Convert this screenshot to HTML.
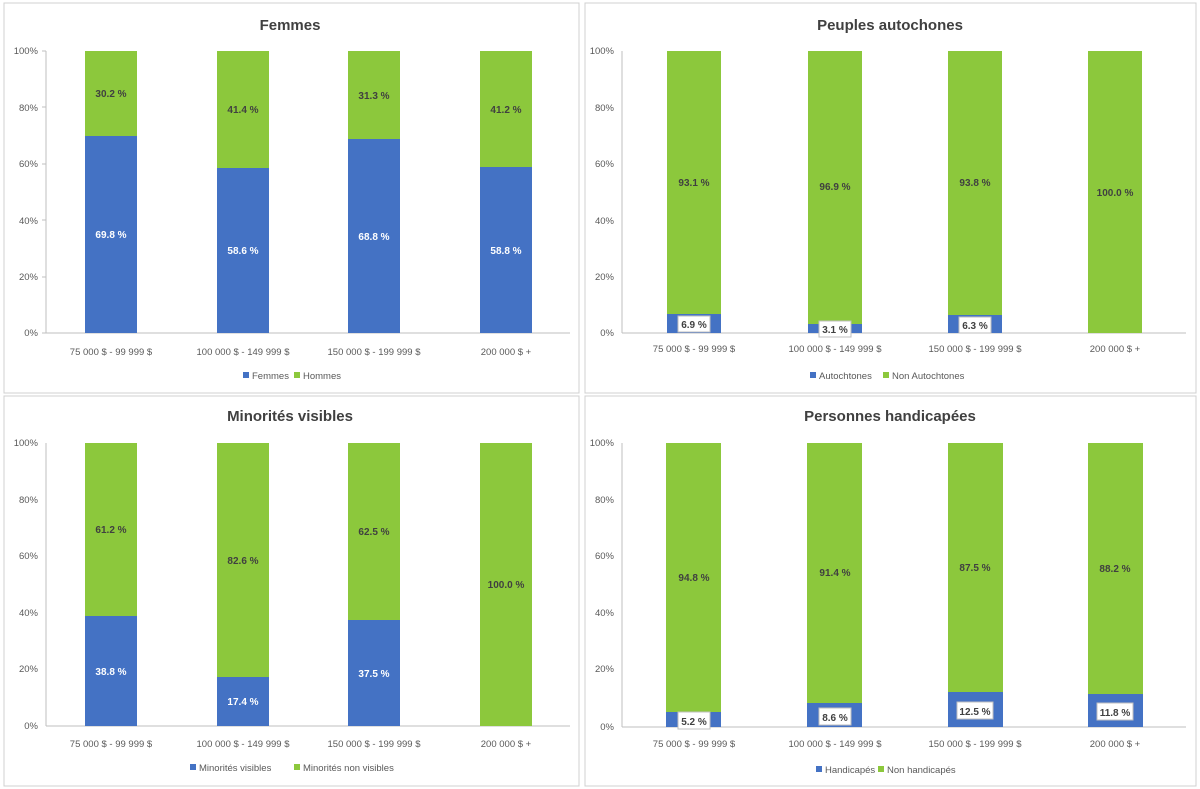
<!DOCTYPE html>
<html><head><meta charset="utf-8"><style>
body{margin:0;background:#fff;}
svg{display:block;font-family:"Liberation Sans",sans-serif;}
.t{font-size:15px;font-weight:bold;fill:#404040;text-anchor:middle}
.y{font-size:9.5px;fill:#595959;text-anchor:end}
.x{font-size:9.5px;fill:#595959;text-anchor:middle}
.l{font-size:9.5px;fill:#595959}
.w{font-size:10px;font-weight:bold;fill:#fff;text-anchor:middle}
.d{font-size:10px;font-weight:bold;fill:#404040;text-anchor:middle}
.b{fill:#4472c4}.g{fill:#8cc83c}
.ax{stroke:#bfbfbf;stroke-width:1}
.cb{fill:#fff;stroke:#bfbfbf}
</style></head><body>
<svg width="1200" height="789" viewBox="0 0 1200 789">
<rect width="1200" height="789" fill="#fff"/>
<!-- panel borders -->
<rect x="4" y="3" width="575" height="390" fill="none" stroke="#d0d0d0"/>
<rect x="585" y="3" width="611" height="390" fill="none" stroke="#d0d0d0"/>
<rect x="4" y="396" width="575" height="390" fill="none" stroke="#d0d0d0"/>
<rect x="585" y="396" width="611" height="390" fill="none" stroke="#d0d0d0"/>

<!-- TL Femmes -->
<text class="t" x="290" y="30">Femmes</text>
<g class="y"><text x="38" y="54">100%</text><text x="38" y="111">80%</text><text x="38" y="167">60%</text><text x="38" y="224">40%</text><text x="38" y="280">20%</text><text x="38" y="336">0%</text></g>
<line class="ax" x1="46" y1="51" x2="46" y2="333"/><line class="ax" x1="46" y1="333" x2="570" y2="333"/>
<g class="ax"><line x1="42" y1="51" x2="46" y2="51"/><line x1="42" y1="107" x2="46" y2="107"/><line x1="42" y1="164" x2="46" y2="164"/><line x1="42" y1="220" x2="46" y2="220"/><line x1="42" y1="277" x2="46" y2="277"/><line x1="42" y1="333" x2="46" y2="333"/></g>
<rect class="g" x="85" y="51" width="52" height="85"/><rect class="b" x="85" y="136" width="52" height="197"/>
<rect class="g" x="217" y="51" width="52" height="117"/><rect class="b" x="217" y="168" width="52" height="165"/>
<rect class="g" x="348" y="51" width="52" height="88"/><rect class="b" x="348" y="139" width="52" height="194"/>
<rect class="g" x="480" y="51" width="52" height="116"/><rect class="b" x="480" y="167" width="52" height="166"/>
<text class="d" x="111" y="97">30.2 %</text><text class="w" x="111" y="238">69.8 %</text>
<text class="d" x="243" y="113">41.4 %</text><text class="w" x="243" y="254">58.6 %</text>
<text class="d" x="374" y="99">31.3 %</text><text class="w" x="374" y="240">68.8 %</text>
<text class="d" x="506" y="113">41.2 %</text><text class="w" x="506" y="254">58.8 %</text>
<g class="x"><text x="111" y="355">75 000 $ - 99 999 $</text><text x="243" y="355">100 000 $ - 149 999 $</text><text x="374" y="355">150 000 $ - 199 999 $</text><text x="506" y="355">200 000 $ +</text></g>
<rect class="b" x="243" y="372" width="6" height="6"/><text class="l" x="252" y="379">Femmes</text>
<rect class="g" x="294" y="372" width="6" height="6"/><text class="l" x="303" y="379">Hommes</text>

<!-- TR Peuples autochones -->
<text class="t" x="890" y="30">Peuples autochones</text>
<g class="y"><text x="614" y="54">100%</text><text x="614" y="111">80%</text><text x="614" y="167">60%</text><text x="614" y="224">40%</text><text x="614" y="280">20%</text><text x="614" y="336">0%</text></g>
<line class="ax" x1="622" y1="51" x2="622" y2="333"/><line class="ax" x1="622" y1="333" x2="1186" y2="333"/>
<rect class="g" x="667" y="51" width="54" height="263"/><rect class="b" x="667" y="314" width="54" height="19"/>
<rect class="g" x="808" y="51" width="54" height="273"/><rect class="b" x="808" y="324" width="54" height="9"/>
<rect class="g" x="948" y="51" width="54" height="264"/><rect class="b" x="948" y="315" width="54" height="18"/>
<rect class="g" x="1088" y="51" width="54" height="282"/>
<text class="d" x="694" y="186">93.1 %</text><text class="d" x="835" y="190">96.9 %</text><text class="d" x="975" y="186">93.8 %</text><text class="d" x="1115" y="196">100.0 %</text>
<rect class="cb" x="678" y="316" width="32" height="16"/><text class="d" x="694" y="328">6.9 %</text>
<rect class="cb" x="819" y="321" width="32" height="16"/><text class="d" x="835" y="333">3.1 %</text>
<rect class="cb" x="959" y="317" width="32" height="16"/><text class="d" x="975" y="329">6.3 %</text>
<g class="x"><text x="694" y="352">75 000 $ - 99 999 $</text><text x="835" y="352">100 000 $ - 149 999 $</text><text x="975" y="352">150 000 $ - 199 999 $</text><text x="1115" y="352">200 000 $ +</text></g>
<rect class="b" x="810" y="372" width="6" height="6"/><text class="l" x="819" y="379">Autochtones</text>
<rect class="g" x="883" y="372" width="6" height="6"/><text class="l" x="892" y="379">Non Autochtones</text>

<!-- BL Minorités visibles -->
<text class="t" x="290" y="421">Minorités visibles</text>
<g class="y"><text x="38" y="446">100%</text><text x="38" y="503">80%</text><text x="38" y="559">60%</text><text x="38" y="616">40%</text><text x="38" y="672">20%</text><text x="38" y="729">0%</text></g>
<line class="ax" x1="46" y1="443" x2="46" y2="726"/><line class="ax" x1="46" y1="726" x2="570" y2="726"/>
<rect class="g" x="85" y="443" width="52" height="173"/><rect class="b" x="85" y="616" width="52" height="110"/>
<rect class="g" x="217" y="443" width="52" height="234"/><rect class="b" x="217" y="677" width="52" height="49"/>
<rect class="g" x="348" y="443" width="52" height="177"/><rect class="b" x="348" y="620" width="52" height="106"/>
<rect class="g" x="480" y="443" width="52" height="283"/>
<text class="d" x="111" y="533">61.2 %</text><text class="w" x="111" y="675">38.8 %</text>
<text class="d" x="243" y="564">82.6 %</text><text class="w" x="243" y="705">17.4 %</text>
<text class="d" x="374" y="535">62.5 %</text><text class="w" x="374" y="677">37.5 %</text>
<text class="d" x="506" y="588">100.0 %</text>
<g class="x"><text x="111" y="747">75 000 $ - 99 999 $</text><text x="243" y="747">100 000 $ - 149 999 $</text><text x="374" y="747">150 000 $ - 199 999 $</text><text x="506" y="747">200 000 $ +</text></g>
<rect class="b" x="190" y="764" width="6" height="6"/><text class="l" x="199" y="771">Minorités visibles</text>
<rect class="g" x="294" y="764" width="6" height="6"/><text class="l" x="303" y="771">Minorités non visibles</text>

<!-- BR Personnes handicapées -->
<text class="t" x="890" y="421">Personnes handicapées</text>
<g class="y"><text x="614" y="446">100%</text><text x="614" y="503">80%</text><text x="614" y="559">60%</text><text x="614" y="616">40%</text><text x="614" y="672">20%</text><text x="614" y="730">0%</text></g>
<line class="ax" x1="622" y1="443" x2="622" y2="727"/><line class="ax" x1="622" y1="727" x2="1186" y2="727"/>
<rect class="g" x="666" y="443" width="55" height="269"/><rect class="b" x="666" y="712" width="55" height="15"/>
<rect class="g" x="807" y="443" width="55" height="260"/><rect class="b" x="807" y="703" width="55" height="24"/>
<rect class="g" x="948" y="443" width="55" height="249"/><rect class="b" x="948" y="692" width="55" height="35"/>
<rect class="g" x="1088" y="443" width="55" height="251"/><rect class="b" x="1088" y="694" width="55" height="33"/>
<text class="d" x="694" y="581">94.8 %</text><text class="d" x="835" y="576">91.4 %</text><text class="d" x="975" y="571">87.5 %</text><text class="d" x="1115" y="572">88.2 %</text>
<rect class="cb" x="678" y="712" width="32" height="17"/><text class="d" x="694" y="725">5.2 %</text>
<rect class="cb" x="819" y="708" width="32" height="17"/><text class="d" x="835" y="721">8.6 %</text>
<rect class="cb" x="957" y="702" width="36" height="17"/><text class="d" x="975" y="715">12.5 %</text>
<rect class="cb" x="1097" y="703" width="36" height="17"/><text class="d" x="1115" y="716">11.8 %</text>
<g class="x"><text x="694" y="747">75 000 $ - 99 999 $</text><text x="835" y="747">100 000 $ - 149 999 $</text><text x="975" y="747">150 000 $ - 199 999 $</text><text x="1115" y="747">200 000 $ +</text></g>
<rect class="b" x="816" y="766" width="6" height="6"/><text class="l" x="825" y="773">Handicapés</text>
<rect class="g" x="878" y="766" width="6" height="6"/><text class="l" x="887" y="773">Non handicapés</text>
</svg>
</body></html>
